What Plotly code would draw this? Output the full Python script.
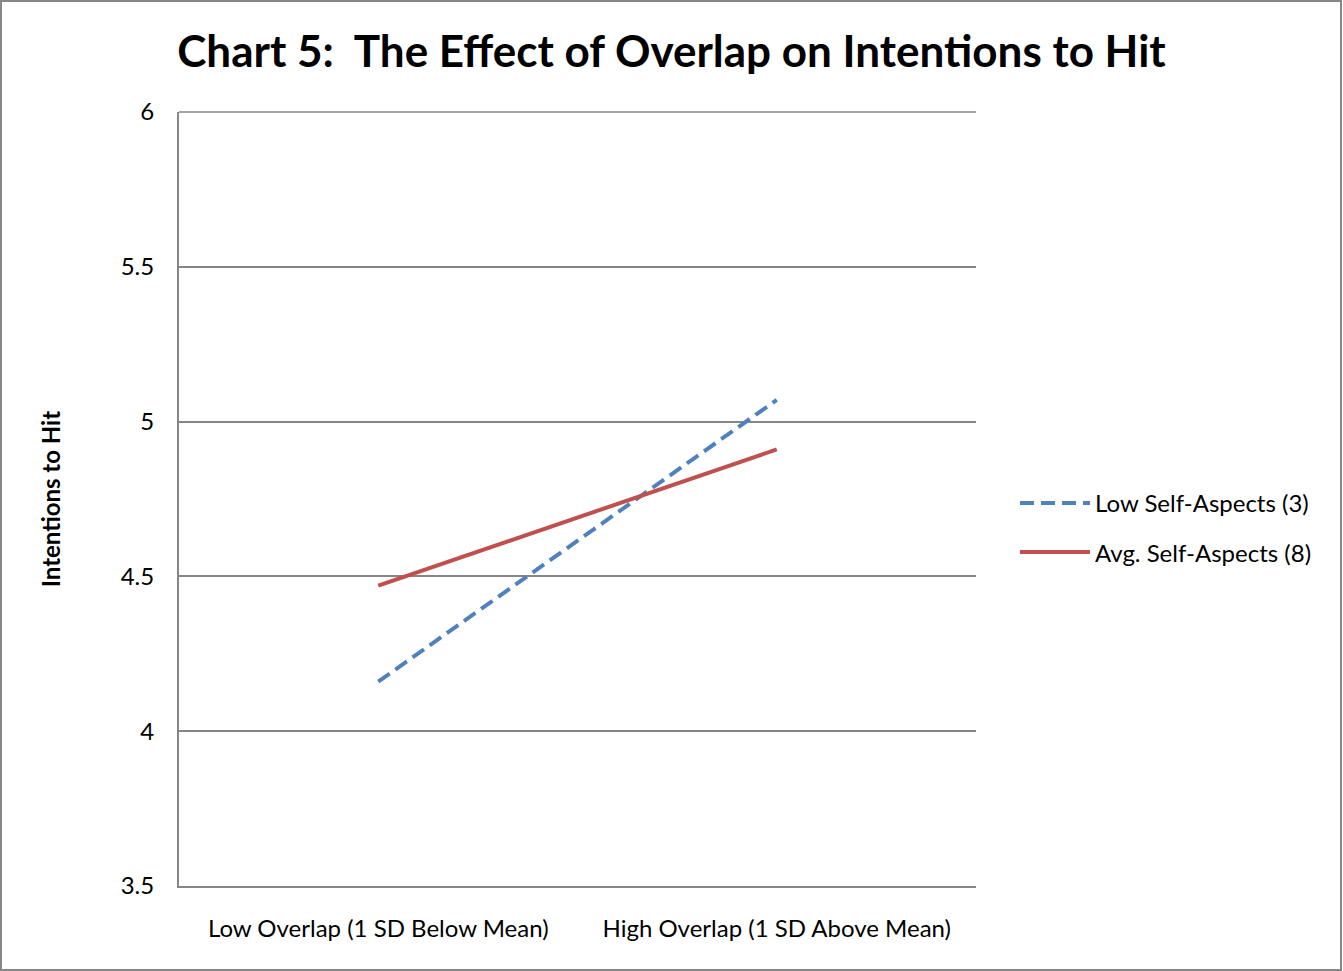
import plotly.graph_objects as go

# Category axis and series values
categories = ["Low Overlap (1 SD Below Mean)", "High Overlap (1 SD Above Mean)"]
low_self_aspects = [4.16, 5.07]
avg_self_aspects = [4.47, 4.91]
series_names = ["Low Self-Aspects (3)", "Avg. Self-Aspects (8)"]
y_ticks = [3.5, 4, 4.5, 5, 5.5, 6]

BLUE = "#4F81BD"
RED = "#C0504D"
GRID = "#868686"
FONT = "Lato, Open Sans, sans-serif"

W, H = 1343, 971
L, R, T, B = 179, 367, 112, 85
PW, PH = W - L - R, H - T - B

fig = go.Figure()
fig.add_trace(go.Scatter(
    x=categories, y=low_self_aspects, mode="lines", name=series_names[0],
    line=dict(color=BLUE, width=4, dash="14px,7px"), showlegend=False,
))
fig.add_trace(go.Scatter(
    x=categories, y=avg_self_aspects, mode="lines", name=series_names[1],
    line=dict(color=RED, width=4), showlegend=False,
))

# Top gridline at the upper end of the value axis
fig.add_shape(type="line", xref="x domain", yref="y domain", x0=0, x1=1, y0=1, y1=1,
              line=dict(color=GRID, width=1.5))

# Legend drawn at the right of the plot area
legend_y = [503, 552]
legend_styles = [dict(color=BLUE, width=4, dash="14px,7px"), dict(color=RED, width=4)]
for name, yy, style in zip(series_names, legend_y, legend_styles):
    fy = (H - B - yy) / PH
    fig.add_shape(type="line", xref="x domain", yref="y domain",
                  x0=(1020 - L) / PW, x1=(1090 - L) / PW, y0=fy, y1=fy, line=style)
    fig.add_annotation(xref="x domain", yref="y domain",
                       x=(1093 - L) / PW, y=fy,
                       text=name, showarrow=False, xanchor="left", yanchor="middle",
                       font=dict(family=FONT, size=24, color="#000000"))

# Outer chart border
fig.add_shape(type="rect", xref="paper", yref="paper",
              x0=-(L - 1) / PW, x1=(W - 2 - L) / PW,
              y0=-(B - 1) / PH, y1=1 + (T - 1) / PH,
              line=dict(color="#878787", width=2), layer="below")

fig.update_layout(
    width=W, height=H,
    margin=dict(l=L, r=R, t=T, b=B),
    paper_bgcolor="white", plot_bgcolor="white",
    title=dict(text="<b>Chart 5:  The Effect of Overlap on Intentions to Hit</b>",
               x=0.5, xref="container", xanchor="center", y=1 - 52 / H, yanchor="middle",
               font=dict(family=FONT, size=44, color="#000000")),
    font=dict(family=FONT, size=24, color="#000000"),
    xaxis=dict(type="category", showgrid=False, showline=True, linecolor=GRID,
               linewidth=2, ticks="", tickfont=dict(size=24),
               ticklabelstandoff=20, range=[-0.5, 1.5], fixedrange=True),
    yaxis=dict(range=[3.5, 6], tickvals=y_ticks, ticktext=[f"{v:g}" for v in y_ticks],
               showgrid=True, gridcolor=GRID, gridwidth=1.5, showline=True,
               linecolor=GRID, linewidth=2, ticks="", zeroline=False,
               tickfont=dict(size=24), ticklabelstandoff=18,
               title=dict(text="<b>Intentions to Hit</b>", standoff=53,
                          font=dict(size=24))),
)

fig.write_html("out.html")
